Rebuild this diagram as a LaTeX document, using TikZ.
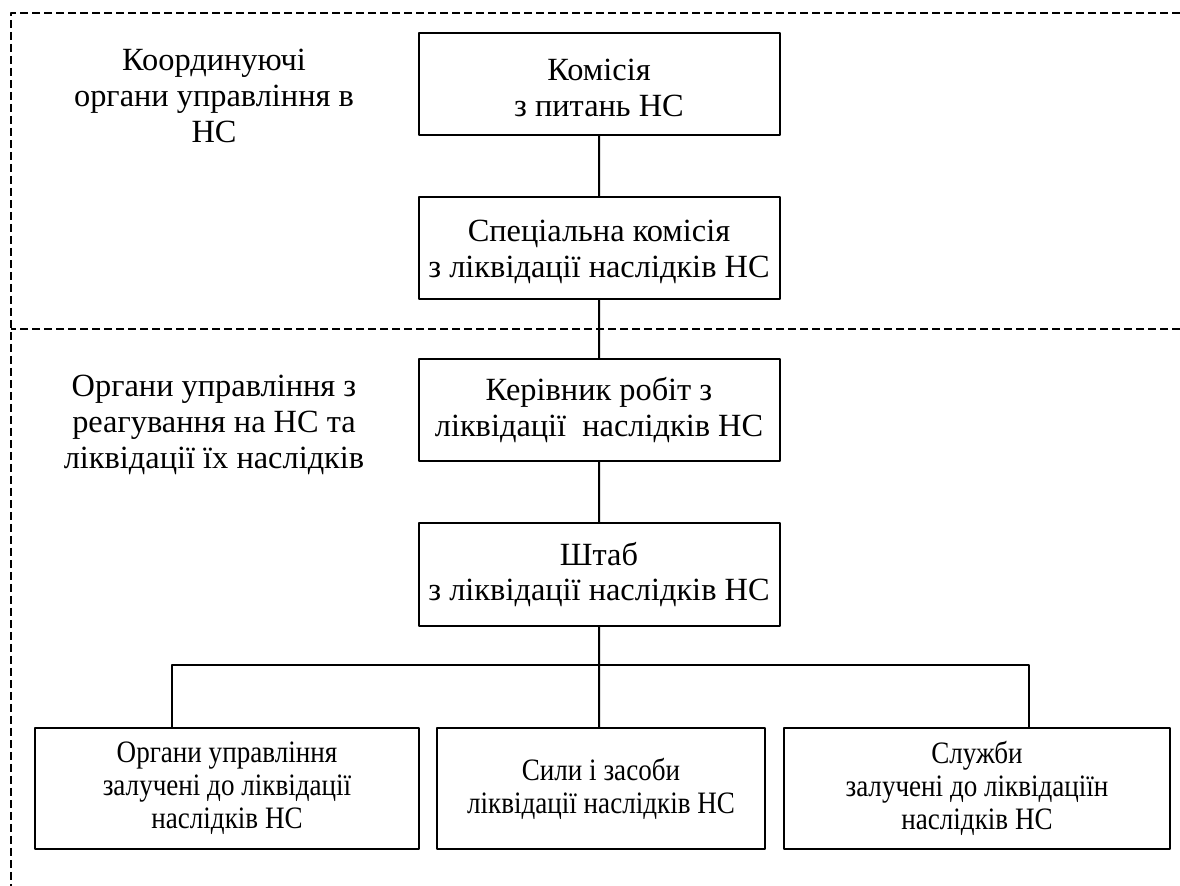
\documentclass[tikz,border=0pt]{standalone}
\usepackage{fontspec}
\setmainfont{Liberation Serif}
\newfontfamily\narrowserif[FakeStretch=0.87]{Liberation Serif}
\begin{document}
\begin{tikzpicture}[join=bevel,scale=0.4]
 \tikzstyle{block}=[draw,line width=0.8pt,align=center,inner sep=2pt,font=\fontsize{13}{14.2}\selectfont]
 \tikzstyle{leaf}=[block,minimum height=48.4bp,font=\narrowserif\fontsize{12.5}{13.2}\selectfont]
 \tikzstyle{zone}=[dash pattern=on 3.2bp off 1.6bp,line width=0.5pt]
 \tikzstyle{caption}=[align=center,font=\fontsize{13}{14.5}\selectfont]
 \useasboundingbox (0bp,0bp) rectangle (1180bp,886bp);

 \coordinate (topL) at (11bp,873bp);
 \coordinate (topR) at (1180bp,873bp);
 \coordinate (midL) at (11bp,557bp);
 \coordinate (midR) at (1180bp,557bp);
 \coordinate (botL) at (11bp,0bp);

 \node (komisiya) at (599bp,802bp) [block,minimum width=144.4bp,minimum height=40.8bp,text height=25.8bp] {Комісія\\з питань НС};
 \node (speckom) at (599bp,638bp) [block,minimum width=144.4bp,minimum height=40.8bp,text height=25.8bp] {Спеціальна комісія\\з ліквідації наслідків НС};
 \node (kerivnyk) at (599bp,476bp) [block,minimum width=144.4bp,minimum height=40.8bp] {Керівник робіт з\\ліквідації\ \ наслідків НС};
 \node (shtab) at (599bp,311.5bp) [block,minimum width=144.4bp,minimum height=41.2bp] {Штаб\\з ліквідації наслідків НС};

 \node (organy) at (227bp,97.5bp) [leaf,minimum width=153.6bp] {Органи управління\\залучені до ліквідації\\наслідків НС};
 \node (syly) at (601bp,97.5bp) [leaf,minimum width=131.2bp] {Сили і засоби\\ліквідації наслідків НС};
 \node (sluzhby) at (977bp,97.5bp) [leaf,minimum width=154.4bp] {Служби\\залучені до ліквідаціїн\\наслідків НС};

 \node (koordcap) at (214bp,790bp) [caption] {Координуючі\\органи управління в\\НС};
 \node (reagcap) at (214bp,461bp) [caption] {Органи управління з\\реагування на НС та\\ліквідації їх наслідків};

 \coordinate (busL) at (172bp,221bp);
 \coordinate (busR) at (1029bp,221bp);

 \draw [zone] (midR) -- (midL);
 \draw [zone] (topR) -- (topL) -- (botL);

 \draw [line width=0.8pt] (komisiya) -- (speckom);
 \draw [line width=0.8pt] (speckom) -- (kerivnyk);
 \draw [line width=0.8pt] (kerivnyk) -- (shtab);
 \draw [line width=0.8pt] (shtab) -- (shtab |- syly.north);
 \draw [line width=0.8pt] (busL |- organy.north) -- (busL) -- (busR) -- (busR |- sluzhby.north);
\end{tikzpicture}
\end{document}
